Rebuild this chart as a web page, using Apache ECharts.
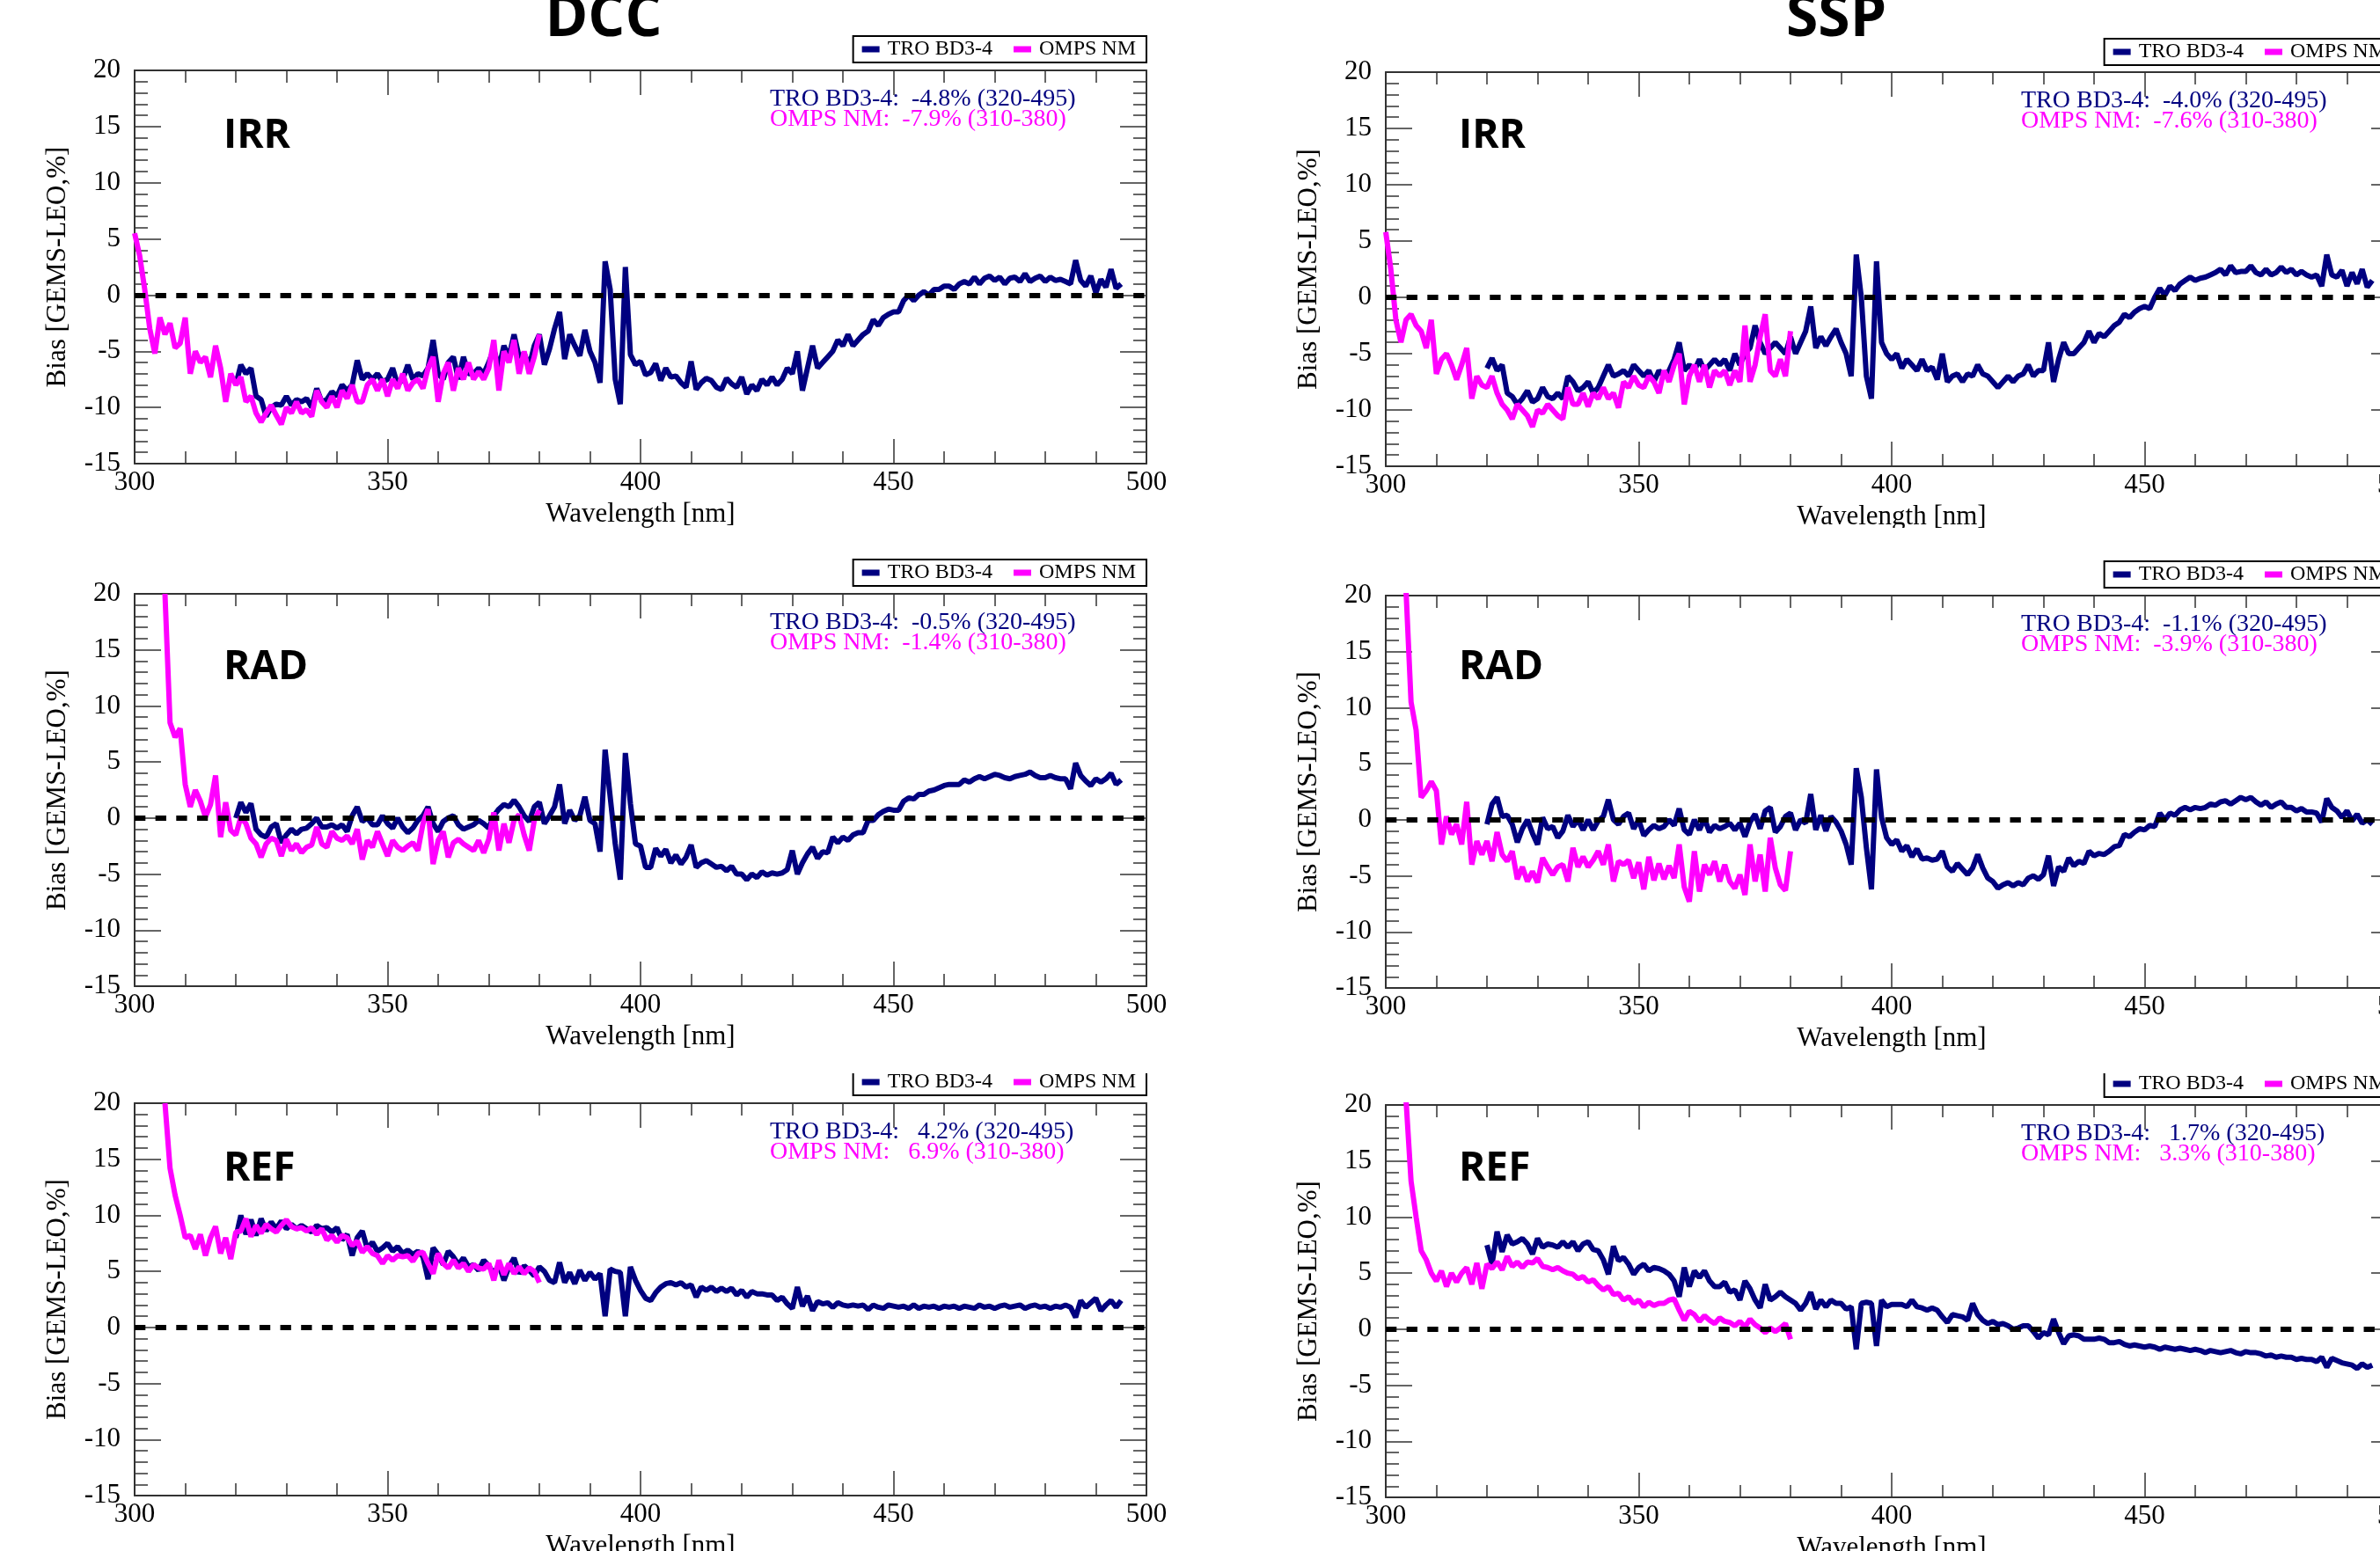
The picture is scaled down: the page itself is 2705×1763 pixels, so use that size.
<!DOCTYPE html>
<html>
<head>
<meta charset="utf-8">
<script src="https://cdn.jsdelivr.net/npm/echarts@6/dist/echarts.min.js"></script>
<style>
  html, body { margin: 0; padding: 0; background: #fff; overflow: hidden; width: 2705px; height: 1763px; }
  .row { position: absolute; left: 0; width: 2760px; }
</style>
</head>
<body>
<div id="row1" class="row" style="top:0;height:600px"></div>
<div id="row2" class="row" style="top:600px;height:620px"></div>
<div id="row3" class="row" style="top:1220px;height:543px"></div>
<script>
// wavelength grid: TRO starts at 320 nm, OMPS start differs per panel (1 nm step)
const TRO_START = 320;
const dccOmpsStart = [300, 306, 306];
const sspOmpsStart = [300, 304, 304];

const columnTitles = ['DCC', 'SSP'];
const panelNames = ['IRR', 'RAD', 'REF'];
const dccTroStats = ['-4.8%', '-0.5%', ' 4.2%'];
const dccOmpsStats = ['-7.9%', '-1.4%', ' 6.9%'];
const sspTroStats = ['-4.0%', '-1.1%', ' 1.7%'];
const sspOmpsStats = ['-7.6%', '-3.9%', ' 3.3%'];

// ---- IRR ----
const dccIrrTro = [
  -8.0, -6.2, -7.0, -6.5, -9.0, -9.3, -10.8, -10.0, -9.7, -9.8,
  -9.0, -9.8, -9.3, -9.5, -9.2, -10.0, -8.3, -9.5, -9.3, -8.6,
  -9.0, -8.0, -8.5, -8.0, -5.8, -7.5, -7.0, -7.5, -7.0, -7.7,
  -7.5, -6.5, -8.0, -7.5, -6.2, -7.5, -7.0, -7.2, -6.5, -4.0,
  -7.0, -7.5, -6.0, -5.5, -7.5, -5.5, -7.0, -7.0, -6.5, -7.0,
  -6.0, -4.8, -6.5, -4.5, -5.5, -3.5, -5.5, -5.2, -6.3, -4.5,
  -3.5, -6.2, -4.8, -3.0, -1.5, -5.7, -3.5, -4.5, -5.4, -3.1,
  -5.0, -6.0, -7.8, 3.0, 0.5, -7.5, -9.7, 2.5, -5.3, -6.2,
  -5.9, -7.1, -6.9, -6.1, -7.6, -6.5, -7.3, -7.2, -7.8, -8.2,
  -5.9, -8.4, -7.8, -7.4, -7.6, -8.2, -8.4, -7.4, -7.9, -8.2,
  -7.3, -8.8, -8.0, -8.5, -7.5, -8.0, -7.3, -8.0, -7.5, -6.5,
  -7.0, -5.0, -8.5, -6.5, -4.5, -6.5, -6.0, -5.5, -5.0, -4.0,
  -4.5, -3.5, -4.5, -4.0, -3.5, -3.2, -2.2, -2.7, -2.0, -1.7,
  -1.5, -1.5, -0.5, 0.0, -0.5, 0.0, 0.3, 0.0, 0.5, 0.5,
  0.8, 0.8, 0.5, 1.0, 1.2, 1.0, 1.6, 1.0, 1.5, 1.7,
  1.3, 1.6, 1.0, 1.5, 1.6, 1.2, 1.9, 1.2, 1.5, 1.7,
  1.2, 1.6, 1.3, 1.4, 1.2, 1.0, 3.1, 1.3, 0.8, 1.7,
  0.2, 1.4, 0.7, 2.3, 0.6, 1.0
];
const dccIrrOmps = [
  5.5, 3.5, 0.5, -3.0, -5.2, -2.0, -3.5, -2.5, -4.7, -4.3,
  -2.0, -7.0, -5.0, -6.0, -5.5, -7.3, -4.5, -6.5, -9.5, -7.0,
  -8.0, -7.3, -9.5, -9.0, -10.5, -11.3, -10.5, -9.8, -10.7, -11.5,
  -10.0, -10.5, -9.5, -10.5, -10.2, -10.8, -8.5, -9.5, -10.0, -9.0,
  -10.0, -8.5, -9.2, -8.0, -9.5, -9.5, -8.0, -7.5, -8.5, -7.5,
  -9.0, -7.5, -8.3, -7.0, -8.5, -7.8, -7.5, -8.3, -6.5, -5.5,
  -9.5, -7.0, -6.0, -8.5, -6.5, -7.5, -6.0, -7.5, -6.8, -7.5,
  -6.5, -4.0, -8.5, -5.0, -6.0, -4.0, -7.0, -5.0, -7.0, -5.5,
  -3.5
];
const sspIrrTro = [
  -6.3, -5.4, -6.5, -6.0, -8.5, -8.8, -9.5, -9.0, -8.3, -9.3,
  -9.0, -8.0, -8.8, -9.0, -8.5, -9.0, -7.0, -7.5, -8.3, -8.0,
  -7.5, -8.5, -8.0, -7.0, -6.0, -7.0, -6.8, -6.5, -7.0, -6.0,
  -6.5, -7.0, -6.5, -7.5, -6.5, -7.0, -6.5, -5.5, -4.0, -6.5,
  -6.0, -6.5, -5.5, -6.5, -6.0, -5.5, -6.0, -5.5, -6.5, -5.0,
  -6.0, -5.0, -4.5, -2.5, -4.0, -5.0, -4.5, -4.0, -4.5, -5.0,
  -3.5, -5.0, -4.0, -3.0, -0.8, -4.5, -3.5, -4.3, -3.5, -2.8,
  -4.0, -5.0, -7.0, 3.8, 0.0, -7.0, -9.0, 3.2, -4.0, -5.0,
  -5.5, -5.0, -6.3, -5.5, -6.0, -6.5, -5.5, -6.5, -6.2, -7.3,
  -5.0, -7.5, -7.0, -6.8, -7.5, -6.8, -7.0, -6.0, -6.8, -7.0,
  -7.5, -8.0, -7.5, -7.0, -7.5, -7.0, -6.8, -6.0, -7.0, -6.5,
  -6.5, -4.0, -7.5, -5.5, -4.0, -5.0, -5.0, -4.5, -4.0, -3.0,
  -4.0, -3.2, -3.5, -3.0, -2.5, -2.2, -1.5, -1.8, -1.3, -1.0,
  -0.8, -1.0, 0.0, 0.8, 0.2, 1.0, 0.6, 1.2, 1.5, 1.8,
  1.5, 1.7, 1.8, 2.0, 2.2, 2.5, 2.0, 2.8, 2.2, 2.3,
  2.3, 2.8, 2.2, 2.0, 2.5, 2.0, 2.2, 2.7, 2.2, 2.5,
  2.0, 2.3, 2.0, 1.8, 2.0, 1.0, 3.8, 2.0, 1.8, 2.4,
  1.0, 2.2, 1.2, 2.5, 0.9, 1.5
];
const sspIrrOmps = [
  5.8, 2.5, -2.0, -4.0, -2.0, -1.5, -2.5, -3.0, -4.5, -2.0,
  -6.8, -5.5, -5.0, -6.0, -7.3, -6.0, -4.5, -9.0, -7.0, -7.8,
  -8.0, -7.0, -8.5, -9.5, -10.0, -10.8, -9.5, -10.0, -10.5, -11.5,
  -10.0, -10.3, -9.5, -10.0, -10.5, -10.8, -8.0, -9.5, -9.5, -8.5,
  -9.7, -8.5, -9.0, -8.0, -9.0, -8.5, -9.8, -7.5, -8.0, -7.0,
  -7.8, -8.0, -7.0, -7.5, -8.5, -6.5, -7.5, -6.0, -5.0, -9.5,
  -7.0, -6.0, -7.5, -6.0, -8.0, -6.5, -7.0, -6.5, -7.8, -6.5,
  -7.5, -2.5, -7.5, -6.0, -3.5, -1.5, -6.5, -7.0, -5.5, -7.0,
  -3.0
];

// ---- RAD ----
const dccRadTro = [
  0.0, 1.4, 0.5, 1.3, -1.0, -1.5, -1.7, -0.8, -0.5, -2.2,
  -1.5, -1.0, -1.4, -1.0, -0.9, -0.5, 0.0, -0.8, -0.8, -0.6,
  -0.9, -0.6, -1.2, 0.2, 1.0, -0.3, 0.0, -0.6, -0.6, 0.2,
  -0.5, -0.9, 0.0, -0.8, -1.3, -0.9, -0.2, 0.2, 1.0, -0.5,
  -1.2, -0.3, 0.0, 0.2, -0.6, -1.0, -0.8, -0.6, -0.2, -0.5,
  -0.9, 0.2, 0.8, 1.2, 1.0, 1.6, 1.0, 0.2, -0.3, 1.0,
  1.4, -0.5, 0.2, 1.0, 3.0, -0.5, 0.7, -0.2, 0.2, 1.9,
  -0.2, -0.5, -3.0, 6.1, 1.9, -2.3, -5.5, 5.8, 1.3, -2.3,
  -2.5, -4.4, -4.4, -2.7, -3.4, -2.8, -4.0, -3.3, -4.1, -3.5,
  -2.4, -4.4, -4.0, -3.8, -4.1, -4.4, -4.3, -4.7, -4.3, -5.0,
  -5.0, -5.5, -5.0, -5.3, -4.8, -5.1, -4.9, -5.0, -4.9, -4.6,
  -2.9, -5.0, -4.0, -3.2, -2.6, -3.6, -3.0, -3.1, -1.7, -2.2,
  -1.7, -2.0, -1.5, -1.3, -1.3, -0.2, -0.2, 0.3, 0.6, 0.8,
  0.7, 0.7, 1.5, 1.8, 1.7, 2.1, 2.1, 2.4, 2.5, 2.7,
  2.9, 3.0, 3.0, 3.0, 3.4, 3.2, 3.5, 3.7, 3.5, 3.7,
  3.9, 3.8, 3.6, 3.5, 3.7, 3.8, 3.9, 4.1, 3.8, 3.6,
  3.6, 3.8, 3.6, 3.5, 3.5, 2.6, 4.9, 3.8, 3.3, 2.9,
  3.5, 3.2, 3.5, 4.0, 3.0, 3.4
];
const dccRadOmps = [
  20.0, 8.5, 7.2, 8.0, 3.0, 1.0, 2.5, 1.5, 0.1, 1.2,
  3.8, -1.7, 1.4, -1.1, -1.5, 0.1, -0.5, -1.8, -2.3, -3.5,
  -2.3, -1.8, -2.0, -3.4, -1.9, -2.9, -2.3, -3.1, -2.6, -2.4,
  -0.8, -2.3, -2.6, -1.2, -1.8, -2.0, -1.6, -2.3, -1.0, -3.7,
  -2.0, -2.6, -1.2, -2.3, -3.4, -2.0, -2.6, -2.9, -2.5, -2.2,
  -2.9, -0.5, 0.8, -4.1, -2.0, -1.2, -3.5, -2.2, -1.9, -2.3,
  -2.6, -2.9, -2.0, -3.1, -1.9, 0.5, -2.9, -0.5, -2.2, -0.2,
  0.3, -1.5, -2.9, -0.2, 0.7
];
const sspRadTro = [
  -0.4, 1.4, 2.0, 0.3, 0.4, -0.4, -2.0, -0.8, 0.0, -1.2,
  -2.2, 0.2, -0.8, -0.6, -1.6, -1.0, 0.4, -0.6, 0.0, -0.9,
  0.0, -0.9, -0.1, 0.3, 1.8, 0.0, -0.4, 0.3, 0.6, -0.8,
  0.0, -1.4, -0.9, -0.5, -0.8, -0.6, 0.0, -0.5, 1.0, -0.9,
  -1.3, 0.0, -0.9, 0.1, -1.1, -0.5, -0.8, -0.6, -0.3, -0.9,
  -0.3, -1.5, -0.2, 0.5, -0.8, 0.8, 1.1, -1.1, -0.6, 0.3,
  0.6, -0.9, 0.0, -0.3, 2.3, -0.9, 0.4, -1.0, 0.3, -0.2,
  -1.0, -2.2, -4.0, 4.6, 2.0, -2.5, -6.2, 4.5, 0.2, -1.6,
  -2.2, -1.8, -2.8, -2.3, -3.3, -2.6, -3.5, -3.4, -3.6, -3.5,
  -2.8, -4.2, -4.6, -3.9, -4.4, -4.9, -4.3, -3.1, -4.3, -5.2,
  -5.5, -6.1, -5.8, -5.6, -5.9, -5.6, -5.8, -5.2, -5.0, -5.3,
  -4.9, -3.2, -5.9, -4.2, -4.6, -3.4, -4.1, -3.7, -3.9, -2.8,
  -3.2, -3.0, -3.1, -2.8, -2.4, -2.3, -1.3, -1.5, -1.1, -0.8,
  -0.9, -0.5, -0.6, 0.6, 0.0, 0.6, 0.4, 0.9, 1.1, 0.9,
  1.1, 1.0, 1.1, 1.4, 1.3, 1.6, 1.7, 1.4, 1.7, 2.0,
  1.8, 2.0, 1.6, 1.3, 1.6, 1.1, 1.4, 1.6, 1.1, 1.1,
  0.8, 1.0, 0.7, 0.7, 0.6, -0.2, 1.9, 1.1, 0.8, 0.2,
  0.8, -0.1, 0.5, -0.3, 0.0, -0.4
];
const sspRadOmps = [
  20.5, 10.5, 8.0, 2.0, 2.6, 3.4, 2.6, -2.2, 0.3, -1.3,
  -0.4, -2.2, 1.6, -4.0, -1.9, -3.1, -1.9, -3.7, -1.1, -3.1,
  -3.7, -2.8, -5.3, -4.2, -5.5, -4.6, -5.6, -3.4, -4.2, -4.9,
  -4.2, -4.0, -5.5, -2.5, -4.2, -3.3, -4.2, -3.6, -2.8, -4.0,
  -2.2, -5.5, -3.7, -4.0, -3.6, -5.2, -3.8, -6.2, -3.3, -5.4,
  -3.9, -5.3, -4.1, -5.2, -2.2, -6.0, -7.3, -2.8, -6.4, -4.0,
  -4.9, -3.7, -5.5, -4.0, -5.5, -6.1, -4.9, -6.7, -2.2, -5.5,
  -3.1, -6.4, -1.6, -4.3, -5.8, -6.3, -2.8
];

// ---- REF ----
const dccRefTro = [
  8.0, 10.0, 8.3, 9.6, 8.2, 9.7, 8.6, 9.4, 8.8, 9.5,
  8.8, 9.2, 8.8, 9.1, 8.8, 8.5, 9.1, 8.8, 8.9, 8.5,
  8.9, 7.8, 8.3, 6.4, 8.0, 8.6, 7.0, 7.6, 6.8, 7.1,
  7.5, 6.8, 7.2, 6.6, 6.9, 6.5, 6.8, 6.3, 4.3, 7.1,
  6.5, 5.6, 6.8, 6.3, 5.6, 6.2, 5.4, 5.6, 5.1, 6.0,
  5.5, 4.8, 5.6, 4.2, 5.4, 6.2, 4.8, 5.5, 5.1, 4.6,
  5.4, 5.0, 4.2, 4.0, 5.8, 4.0, 4.9, 3.9, 5.1, 4.2,
  4.9, 4.3, 4.8, 1.0, 5.2, 5.0, 4.9, 1.0, 5.4, 4.2,
  3.3, 2.6, 2.4, 3.1, 3.6, 3.9, 4.0, 3.8, 4.0, 3.6,
  3.8, 2.7, 3.6, 3.3, 3.6, 3.2, 3.5, 3.2, 3.5, 2.9,
  3.3, 2.7, 3.2, 3.0, 3.0, 2.9, 2.9, 2.4, 2.7, 2.1,
  1.7, 3.6, 1.9, 2.8, 1.5, 2.3, 2.1, 2.2, 1.8, 2.2,
  2.0, 1.9, 2.0, 1.9, 2.0, 1.6, 2.0, 1.8, 1.7, 2.0,
  1.9, 1.8, 1.9, 1.7, 2.0, 1.7, 1.9, 1.8, 1.9, 1.7,
  1.9, 1.8, 1.9, 1.7, 1.9, 1.8, 1.7, 2.0, 1.8, 1.9,
  1.7, 1.9, 2.0, 1.8, 1.9, 2.0, 1.7, 1.9, 2.0, 1.8,
  1.9, 1.7, 1.9, 1.8, 2.0, 1.8, 0.9, 2.4, 1.8, 2.2,
  2.6, 1.5, 2.0, 2.4, 1.8, 2.4
];
const dccRefOmps = [
  20.0, 14.2, 11.8, 10.0, 8.0, 8.2, 7.0, 8.3, 6.4, 8.0,
  9.0, 6.6, 8.0, 6.1, 8.5, 8.6, 9.7, 8.1, 9.1, 8.4,
  9.2, 8.8, 8.5, 9.1, 9.6, 9.0, 8.8, 8.9, 8.6, 8.9,
  8.3, 8.8, 7.8, 8.2, 7.6, 8.2, 8.0, 7.3, 7.7, 6.7,
  7.2, 6.6, 6.4, 5.7, 6.4, 6.0, 6.4, 6.3, 6.4, 5.9,
  6.6, 6.7, 5.7, 4.8, 6.6, 5.7, 5.3, 6.0, 5.3, 5.7,
  5.0, 5.6, 5.3, 5.2, 5.7, 4.2, 6.0, 4.7, 5.7, 4.8,
  5.4, 4.8, 5.3, 5.0, 4.0
];
const sspRefTro = [
  7.5, 5.8, 8.7, 6.9, 8.4, 7.6, 7.8, 8.1, 7.6, 6.7,
  8.1, 7.3, 7.6, 7.5, 7.3, 7.8, 7.3, 7.8, 7.0, 7.6,
  7.8, 7.1, 7.0, 6.2, 4.9, 7.4, 6.1, 6.4, 5.8, 4.9,
  5.5, 5.8, 5.2, 5.5, 5.4, 5.2, 4.9, 4.3, 2.9, 5.5,
  3.8, 5.2, 4.6, 5.2, 4.3, 3.8, 3.8, 4.2, 3.3, 3.5,
  2.6, 4.3, 3.6, 2.6, 1.9, 4.0, 2.6, 2.9, 3.3, 2.9,
  2.6, 2.3, 1.7, 2.3, 3.3, 1.8, 2.6, 2.0, 2.6, 2.3,
  2.3, 1.8, 2.0, -1.8, 2.3, 2.4, 2.3, -1.5, 2.6, 2.0,
  2.2, 2.2, 2.2, 2.0, 2.6, 2.0, 1.9, 1.7, 1.9, 1.7,
  1.1, 0.6, 1.3, 1.2, 1.1, 0.8, 2.3, 1.3, 0.8, 0.5,
  0.7, 0.4, 0.5, 0.3, 0.0, 0.1, 0.3, 0.3, -0.2, -0.8,
  -0.3, -0.5, 0.9, -0.3, -1.3, -0.6, -0.5, -0.6, -0.9, -0.9,
  -0.9, -0.8, -0.9, -1.2, -1.2, -1.1, -1.35, -1.5, -1.4, -1.5,
  -1.6, -1.5, -1.6, -1.8, -1.6, -1.7, -1.8, -1.7, -1.8, -1.9,
  -1.8, -1.9, -2.1, -1.9, -2.0, -2.1, -2.0, -1.9, -2.1, -2.2,
  -2.0, -2.1, -2.1, -2.2, -2.4, -2.3, -2.5, -2.4, -2.5, -2.5,
  -2.7, -2.6, -2.7, -2.7, -2.9, -2.5, -3.4, -2.6, -2.8, -3.0,
  -3.1, -3.2, -3.5, -3.1, -3.4, -3.2
];
const sspRefOmps = [
  20.5, 13.2, 10.0, 7.0, 6.2, 5.0, 4.3, 5.2, 3.8, 5.0,
  4.2, 5.0, 5.5, 4.0, 5.9, 3.6, 5.8, 5.4, 6.0, 5.3,
  6.5, 5.6, 6.0, 5.5, 6.0, 5.9, 6.3, 5.6, 5.5, 5.3,
  5.5, 5.2, 5.0, 4.9, 4.5, 4.7, 4.2, 4.4, 3.9, 3.5,
  3.8, 3.1, 3.2, 2.6, 2.9, 2.3, 2.6, 2.0, 2.4, 2.1,
  2.3, 2.3, 2.6, 2.7, 1.7, 0.8, 1.6, 1.3, 0.7, 1.2,
  0.8, 0.5, 1.0, 0.7, 0.6, 0.3, 0.7, 0.2, 0.9, 0.4,
  0.1, -0.3, 0.1, -0.2, 0.1, 0.5, -0.9
];

const dccTro = [dccIrrTro, dccRadTro, dccRefTro];
const dccOmps = [dccIrrOmps, dccRadOmps, dccRefOmps];
const sspTro = [sspIrrTro, sspRadTro, sspRefTro];
const sspOmps = [sspIrrOmps, sspRadOmps, sspRefOmps];

// ---- styling / layout ----
const NAVY = '#000080';
const MAGENTA = '#ff00ff';
const AXIS = '#333';
const SERIF = '"Liberation Serif", "Times New Roman", serif';
const SANS = '"Open Sans", "Noto Sans", sans-serif';
const CANVAS_W = 2760;
const PLOT_W = 1150;
const LEFTS = [153, 1575];
const LABEL_X = [254, 1658];

// positions are relative to each row's div (row3 div starts at 1220px)
const rowsLayout = [
  { id: 'row1', tops: [80, 82], heights: [447, 448], legendTops: [41, 44], labelY: 168, titles: true },
  { id: 'row2', tops: [75, 77], heights: [446, 446], legendTops: [36, 38], labelY: 172 },
  { id: 'row3', tops: [34, 36], heights: [446, 446], legendTops: [-5, -3], labelY: 122 }
];

const pairs = (start, vals) => vals.map((v, i) => [start + i, v]);

function xAxis(gi, pos) {
  const main = pos === 'bottom';
  return {
    type: 'value', gridIndex: gi, position: pos, min: 300, max: 500, interval: 50,
    axisLine: { show: true, onZero: false, lineStyle: { color: AXIS, width: 2 } },
    axisTick: { show: true, inside: true, length: 28, lineStyle: { color: AXIS, width: 1.5 } },
    minorTick: { show: true, splitNumber: 5, length: 14, lineStyle: { color: AXIS, width: 1.5 } },
    splitLine: { show: false },
    minorSplitLine: { show: false },
    axisLabel: main
      ? { show: true, margin: 6, fontSize: 31, fontFamily: SERIF, color: '#000' }
      : { show: false },
    name: main ? 'Wavelength [nm]' : '',
    nameLocation: 'middle', nameGap: 37,
    nameTextStyle: { fontSize: 31, fontFamily: SERIF, color: '#000' }
  };
}

function yAxis(gi, pos) {
  const main = pos === 'left';
  return {
    type: 'value', gridIndex: gi, position: pos, min: -15, max: 20, interval: 5,
    axisLine: { show: true, onZero: false, lineStyle: { color: AXIS, width: 2 } },
    axisTick: { show: true, inside: true, length: 30, lineStyle: { color: AXIS, width: 1.5 } },
    minorTick: { show: true, splitNumber: 5, length: 15, lineStyle: { color: AXIS, width: 1.5 } },
    splitLine: { show: false },
    minorSplitLine: { show: false },
    axisLabel: main
      ? { show: true, margin: 16, fontSize: 31, fontFamily: SERIF, color: '#000' }
      : { show: false },
    name: main ? 'Bias [GEMS-LEO,%]' : '',
    nameLocation: 'middle', nameGap: 72,
    nameTextStyle: { fontSize: 31, fontFamily: SERIF, color: '#000' }
  };
}

function buildRow(r, lay) {
  const option = {
    animation: false,
    grid: [], xAxis: [], yAxis: [], series: [], legend: [], graphic: []
  };
  const cols = [
    { tro: dccTro[r], omps: dccOmps[r], ompsStart: dccOmpsStart[r], troStat: dccTroStats[r], ompsStat: dccOmpsStats[r] },
    { tro: sspTro[r], omps: sspOmps[r], ompsStart: sspOmpsStart[r], troStat: sspTroStats[r], ompsStat: sspOmpsStats[r] }
  ];
  cols.forEach((c, i) => {
    const left = LEFTS[i];
    const top = lay.tops[i];
    option.grid.push({ left: left, top: top, width: PLOT_W, height: lay.heights[i], containLabel: false, outerBoundsMode: 'none' });
    option.xAxis.push(xAxis(i, 'bottom'), xAxis(i, 'top'));
    option.yAxis.push(yAxis(i, 'left'), yAxis(i, 'right'));
    const ax = i * 2;
    option.series.push({
      name: 'TRO BD3-4', type: 'line', xAxisIndex: ax, yAxisIndex: ax,
      data: pairs(TRO_START, c.tro),
      symbol: 'none', showSymbol: false, color: NAVY,
      lineStyle: { color: NAVY, width: 6 },
      clip: true, z: 3,
      markLine: {
        silent: true, symbol: 'none', animation: false,
        label: { show: false },
        lineStyle: { color: '#000', width: 6, type: [12.3, 11.35] },
        data: [{ yAxis: 0 }]
      }
    });
    option.series.push({
      name: 'OMPS NM', type: 'line', xAxisIndex: ax, yAxisIndex: ax,
      data: pairs(c.ompsStart, c.omps),
      symbol: 'none', showSymbol: false, color: MAGENTA,
      lineStyle: { color: MAGENTA, width: 6 },
      clip: true, z: 4
    });
    option.legend.push({
      top: lay.legendTops[i], right: CANVAS_W - (left + PLOT_W),
      data: ['TRO BD3-4', 'OMPS NM'],
      icon: 'rect', itemWidth: 20, itemHeight: 7, itemGap: 24,
      padding: [3, 12, 3, 10],
      borderColor: '#000', borderWidth: 2, borderRadius: 0, backgroundColor: '#fff',
      selectedMode: false,
      textStyle: { fontFamily: SERIF, fontSize: 24, color: '#000', padding: [0, 0, 0, 4] }
    });
    option.graphic.push(
      {
        type: 'text', x: LABEL_X[i], y: lay.labelY - 13,
        style: { text: panelNames[r], fontFamily: SANS, fontWeight: 'bold', fontSize: 46, fill: '#000', align: 'left', verticalAlign: 'middle' }
      },
      {
        type: 'text', x: left + 722, y: top + 41 - 8.5,
        style: { text: 'TRO BD3-4:  ' + c.troStat + ' (320-495)', fontFamily: SERIF, fontSize: 28, fill: NAVY, align: 'left', verticalAlign: 'middle' }
      },
      {
        type: 'text', x: left + 722, y: top + 64 - 8.5,
        style: { text: 'OMPS NM:  ' + c.ompsStat + ' (310-380)', fontFamily: SERIF, fontSize: 28, fill: MAGENTA, align: 'left', verticalAlign: 'middle' }
      }
    );
  });
  if (lay.titles) {
    [686, 2087].forEach((cx, i) => {
      option.graphic.push({
        type: 'text', x: cx, y: 22,
        style: { text: columnTitles[i], fontFamily: SANS, fontWeight: 'bold', fontSize: 66, fill: '#000', align: 'center', verticalAlign: 'middle' }
      });
    });
  }
  return option;
}

rowsLayout.forEach((lay, r) => {
  const chart = echarts.init(document.getElementById(lay.id), null, { renderer: 'canvas' });
  chart.setOption(buildRow(r, lay));
});
</script>
</body>
</html>
